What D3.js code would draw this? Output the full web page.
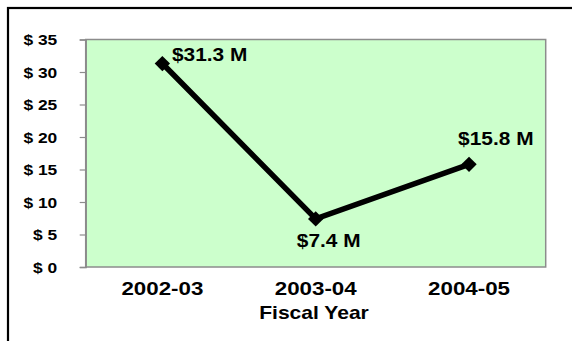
<!DOCTYPE html>
<html><head><meta charset="utf-8">
<script src="https://cdn.jsdelivr.net/npm/d3@7"></script>
<style>body{margin:0;background:#fff}svg{display:block}</style>
</head><body>
<script>
const categories = ["2002-03", "2003-04", "2004-05"];
const values = [31.3, 7.4, 15.8];
const pointLabels = ["$31.3 M", "$7.4 M", "$15.8 M"];
const yTicks = [0, 5, 10, 15, 20, 25, 30, 35];
const xTitle = "Fiscal Year";

const W = 572, H = 341;
const svg = d3.select("body").append("svg").attr("width", W).attr("height", H);
const font = "'Liberation Sans', Arial, sans-serif";
const plot = {l: 85.7, r: 545.7, t: 39.5, b: 267};

// outer frame (extends beyond window)
svg.append("rect").attr("x", 8).attr("y", 8).attr("width", W + 20).attr("height", H + 20)
  .attr("fill", "none").attr("stroke", "#000").attr("stroke-width", 2.2);

const x = d3.scalePoint().domain(categories).range([plot.l, plot.r]).padding(0.5);
const y = d3.scaleLinear().domain([0, 35]).range([plot.b, plot.t]);

// plot area
svg.append("rect").attr("x", plot.l).attr("y", plot.t)
  .attr("width", plot.r - plot.l).attr("height", plot.b - plot.t)
  .attr("fill", "#CCFFCC").attr("stroke", "#8c8c8c").attr("stroke-width", 1.5);

// y axis
const yAxis = svg.append("g").attr("transform", `translate(${plot.l},0)`)
  .call(d3.axisLeft(y).tickValues(yTicks).tickSize(6).tickFormat(d => "$ " + d));
yAxis.select(".domain").attr("stroke", "#8c8c8c").attr("stroke-width", 1.5);
yAxis.selectAll(".tick line").attr("stroke", "#8c8c8c").attr("stroke-width", 1.2);
yAxis.selectAll(".tick text").each(function(d) {
  const t = d3.select(this);
  t.attr("x", null).attr("dy", null).attr("text-anchor", "end")
   .attr("transform", `translate(${57.3 - plot.l},${5.2}) scale(1.13,1)`)
   .attr("font-family", font).attr("font-weight", "bold").attr("font-size", 15.4).attr("fill", "#000");
});

// x category labels
svg.append("g").selectAll("text").data(categories).join("text")
  .attr("transform", d => `translate(${x(d)},294.7) scale(1.2,1)`)
  .attr("text-anchor", "middle").attr("font-family", font).attr("font-weight", "bold")
  .attr("font-size", 18.6).attr("fill", "#000").text(d => d);

svg.append("text").attr("transform", `translate(${(plot.l + plot.r) / 2 - 1.7},319) scale(1.17,1)`)
  .attr("text-anchor", "middle").attr("font-family", font).attr("font-weight", "bold")
  .attr("font-size", 18).attr("fill", "#000").text(xTitle);

// line
const data = categories.map((c, i) => ({c, v: values[i], label: pointLabels[i]}));
svg.append("path").datum(data)
  .attr("d", d3.line().x(d => x(d.c)).y(d => y(d.v)))
  .attr("fill", "none").attr("stroke", "#000").attr("stroke-width", 5.5).attr("stroke-linejoin", "miter");

svg.append("g").selectAll("path").data(data).join("path")
  .attr("d", d3.symbol(d3.symbolDiamond2, 150)())
  .attr("transform", d => `translate(${x(d.c)},${y(d.v)}) rotate(0)`)
  .attr("fill", "#000");

// data labels
const offsets = [[47.3, -2.8], [13, 28.5], [26.8, -19.3]];
svg.append("g").selectAll("text").data(data).join("text")
  .attr("transform", (d, i) => `translate(${x(d.c) + offsets[i][0]},${y(d.v) + offsets[i][1]}) scale(1.18,1)`)
  .attr("text-anchor", "middle").attr("font-family", font).attr("font-weight", "bold")
  .attr("font-size", 17.7).attr("fill", "#000").text(d => d.label);
</script>
</body></html>
